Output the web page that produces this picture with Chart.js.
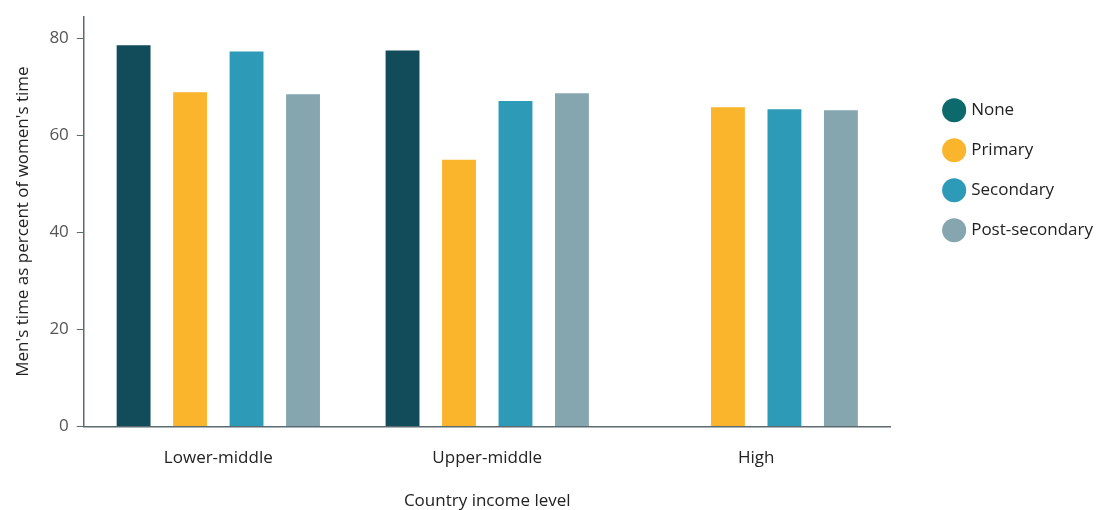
<!DOCTYPE html>
<html><head><meta charset="utf-8">
<script src="https://cdn.jsdelivr.net/npm/chart.js@4"></script>
<style>html,body{margin:0;padding:0;background:#fff}#wrap{width:1103px;height:510px}</style>
</head><body><div id="wrap"><canvas id="c" width="1103" height="510"></canvas></div>
<script>
const categories = ["Lower-middle", "Upper-middle", "High"];
const seriesNames = ["None", "Primary", "Secondary", "Post-secondary"];
const noneVals = [78.6, 77.5, null];
const primaryVals = [68.9, 55.0, 65.8];
const secondaryVals = [77.3, 67.1, 65.4];
const postSecondaryVals = [68.5, 68.7, 65.2];
const yTicks = [0, 20, 40, 60, 80];

const barColors = ["#124c5b", "#fbb52d", "#2d9ab8", "#86a6af"];
const legendColors = ["#0c6a6d", "#fbb52d", "#2d9ab8", "#86a6af"];
const FONT = "'Open Sans', Lato, sans-serif";
const LEGEND_SHIFT = 32;

const legendShift = {
  id: 'legendShift',
  beforeInit(chart) {
    const lg = chart.legend;
    const orig = lg.fit.bind(lg);
    lg.fit = function () { orig(); this.width += LEGEND_SHIFT; };
  },
  afterLayout(chart) {
    chart.legend.left += LEGEND_SHIFT;
  }
};

const values = [noneVals, primaryVals, secondaryVals, postSecondaryVals];
new Chart(document.getElementById('c'), {
  type: 'bar',
  data: {
    labels: categories,
    datasets: seriesNames.map((n, i) => ({
      label: n, data: values[i], backgroundColor: barColors[i],
      barPercentage: 0.6, categoryPercentage: 0.84
    }))
  },
  plugins: [legendShift],
  options: {
    responsive: false, animation: false,
    layout: { padding: { left: 9, right: 0, top: 5, bottom: 0 } },
    plugins: {
      tooltip: { enabled: false },
      legend: {
        position: 'right', align: 'start',
        title: { display: true, text: ' ', padding: { top: 57, bottom: 0 }, font: { size: 14 } },
        labels: {
          usePointStyle: true, pointStyle: 'circle', boxWidth: 17, boxHeight: 17,
          padding: 23, color: '#222', font: { family: FONT, size: 17 },
          generateLabels: (chart) => seriesNames.map((n, i) => ({
            text: n, fillStyle: legendColors[i], strokeStyle: legendColors[i],
            lineWidth: 0, pointStyle: 'circle', datasetIndex: i, hidden: false, fontColor: '#222'
          }))
        }
      }
    },
    scales: {
      x: {
        grid: { display: false, drawTicks: false },
        border: { display: true, color: '#5b6b70', width: 1.5 },
        ticks: { color: '#222', font: { family: FONT, size: 17 }, padding: 21 },
        title: { display: true, text: 'Country income level', color: '#222', font: { family: FONT, size: 17, lineHeight: 1.0 }, padding: { top: 4, bottom: 0 } }
      },
      y: {
        min: 0, max: 84.5,
        afterBuildTicks: (s) => { s.ticks = yTicks.map(v => ({ value: v })); },
        grid: { display: true, drawOnChartArea: false, drawTicks: true, tickLength: 7, color: '#5b6b70' },
        border: { display: true, color: '#5b6b70', width: 1.5 },
        ticks: { color: '#555', font: { family: FONT, size: 17, lineHeight: 1.0 }, padding: 8 },
        title: { display: true, text: "Men's time as percent of women's time", color: '#222', font: { family: FONT, size: 17 }, padding: { bottom: 8 } }
      }
    }
  }
});
</script></body></html>
